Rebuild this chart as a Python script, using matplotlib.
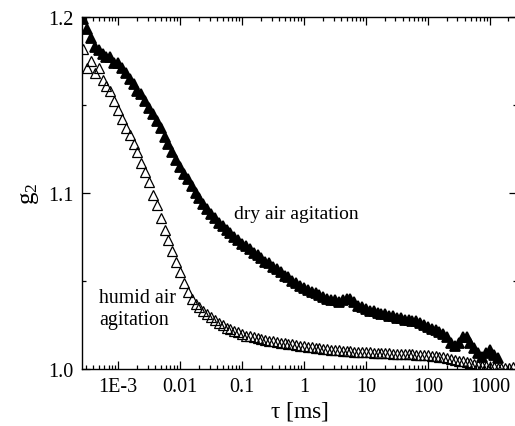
import matplotlib
matplotlib.use('Agg')
import matplotlib.pyplot as plt
from matplotlib.ticker import FixedLocator, FixedFormatter, LogLocator, NullFormatter

plt.rcParams['font.family'] = ['Liberation Serif', 'DejaVu Serif']
plt.rcParams['mathtext.fontset'] = 'custom'
plt.rcParams['mathtext.rm'] = 'Liberation Serif'
plt.rcParams['mathtext.it'] = 'Liberation Serif:italic'

# lag times [ms] (correlator channels)
tau_ms = [
    2.74e-4, 3.16e-4, 3.65e-4, 4.22e-4, 4.87e-4, 5.62e-4, 6.49e-4, 7.50e-4, 8.66e-4,
    1.00e-3, 1.15e-3, 1.33e-3, 1.54e-3, 1.78e-3, 2.05e-3, 2.37e-3, 2.74e-3,
    3.16e-3, 3.65e-3, 4.22e-3, 4.87e-3, 5.62e-3, 6.49e-3, 7.50e-3, 8.66e-3,
    1.00e-2, 1.15e-2, 1.33e-2, 1.54e-2, 1.78e-2, 2.05e-2, 2.37e-2, 2.74e-2,
    3.16e-2, 3.65e-2, 4.22e-2, 4.87e-2, 5.62e-2, 6.49e-2, 7.50e-2, 8.66e-2,
    0.100, 0.115, 0.133, 0.154, 0.178, 0.205, 0.237, 0.274,
    0.316, 0.365, 0.422, 0.487, 0.562, 0.649, 0.750, 0.866,
    1.00, 1.15, 1.33, 1.54, 1.78, 2.05, 2.37, 2.74,
    3.16, 3.65, 4.22, 4.87, 5.62, 6.49, 7.50, 8.66,
    10.0, 11.5, 13.3, 15.4, 17.8, 20.5, 23.7, 27.4,
    31.6, 36.5, 42.2, 48.7, 56.2, 64.9, 75.0, 86.6,
    100, 115, 133, 154, 178, 205, 237, 274,
    316, 365, 422, 487, 562, 649, 750, 866,
    1000, 1155, 1334, 1540, 1778, 2054, 2371,
]

g2_dry = [
    1.199, 1.193, 1.188, 1.183, 1.181, 1.179, 1.177, 1.177, 1.174,
    1.174, 1.171, 1.168, 1.165, 1.162, 1.158, 1.156, 1.152,
    1.148, 1.145, 1.141, 1.137, 1.132, 1.128, 1.123, 1.119,
    1.115, 1.111, 1.108, 1.104, 1.100, 1.097, 1.094, 1.091,
    1.088, 1.086, 1.083, 1.081, 1.079, 1.077, 1.075, 1.073,
    1.071, 1.070, 1.068, 1.066, 1.065, 1.063, 1.061, 1.060,
    1.058, 1.057, 1.055, 1.053, 1.052, 1.050, 1.049, 1.047,
    1.046, 1.045, 1.044, 1.043, 1.042, 1.041, 1.040, 1.039,
    1.039, 1.038, 1.039, 1.040, 1.040, 1.038, 1.036, 1.035,
    1.034, 1.033, 1.033, 1.032, 1.031, 1.031, 1.030, 1.030,
    1.029, 1.029, 1.028, 1.028, 1.027, 1.027, 1.026, 1.025,
    1.024, 1.023, 1.022, 1.021, 1.020, 1.018, 1.015, 1.013,
    1.015, 1.018, 1.018, 1.015, 1.012, 1.009, 1.007, 1.009,
    1.011, 1.008, 1.006,
]

g2_humid = [
    1.182, 1.171, 1.175, 1.168, 1.171, 1.164, 1.161, 1.158, 1.152,
    1.147, 1.142, 1.137, 1.133, 1.128, 1.123, 1.117, 1.112,
    1.106, 1.099, 1.093, 1.086, 1.079, 1.073, 1.067, 1.061,
    1.055, 1.049, 1.044, 1.040, 1.037, 1.035, 1.033, 1.031,
    1.0295, 1.028, 1.026, 1.025, 1.0235, 1.0225, 1.0215, 1.021,
    1.020, 1.019, 1.0185, 1.018, 1.0175, 1.017, 1.0165, 1.016,
    1.0157, 1.0153, 1.015, 1.0147, 1.0143, 1.014, 1.0137, 1.0133,
    1.013, 1.0127, 1.0124, 1.0121, 1.0118, 1.0115, 1.0112, 1.011,
    1.0108, 1.0106, 1.0104, 1.0102, 1.010, 1.0098, 1.0097, 1.0096,
    1.0095, 1.0094, 1.0093, 1.0092, 1.0091, 1.009, 1.0089, 1.0088,
    1.0087, 1.0086, 1.0085, 1.0084, 1.0083, 1.0082, 1.0081, 1.008,
    1.0078, 1.0076, 1.0073, 1.007, 1.0066, 1.0062, 1.0058, 1.0053,
    1.0048, 1.0043, 1.0038, 1.0033, 1.0028, 1.0023, 1.0019, 1.0015,
    1.0012, 1.001, 1.0008, 1.0007, 1.0007, 1.0008, 1.0009,
]

x_ticks = [1e-3, 1e-2, 1e-1, 1, 10, 100, 1000]
x_tick_labels = ['1E-3', '0.01', '0.1', '1', '10', '100', '1000']
y_ticks = [1.0, 1.1, 1.2]
y_tick_labels = ['1.0', '1.1', '1.2']


def main():
    fig = plt.figure(figsize=(5.15, 4.27), dpi=100)
    ax = fig.add_axes([0.159, 0.1335, 0.844, 0.8245])

    ax.plot(tau_ms[:len(g2_humid)], g2_humid, linestyle='none', marker='^',
            ms=6.5, mfc='none', mec='black', mew=0.9)
    ax.plot(tau_ms[:len(g2_dry)], g2_dry, linestyle='none', marker='^',
            ms=6.5, mfc='black', mec='black', mew=1.3)

    ax.set_xscale('log')
    ax.set_xlim(2.6e-4, 2700)
    ax.set_ylim(1.0, 1.2)

    ax.xaxis.set_major_locator(FixedLocator(x_ticks))
    ax.xaxis.set_major_formatter(FixedFormatter(x_tick_labels))
    ax.xaxis.set_minor_locator(LogLocator(base=10, subs=range(2, 10), numticks=20))
    ax.xaxis.set_minor_formatter(NullFormatter())
    ax.yaxis.set_major_locator(FixedLocator(y_ticks))
    ax.yaxis.set_major_formatter(FixedFormatter(y_tick_labels))
    ax.yaxis.set_minor_locator(FixedLocator([1.05, 1.15]))

    ax.tick_params(which='both', direction='in', top=True, right=True,
                   labelsize=14.5, width=0.9)
    ax.tick_params(which='major', length=6, pad=6)
    ax.tick_params(which='minor', length=3)
    for sp in ax.spines.values():
        sp.set_linewidth(1.0)

    ax.set_xlabel(r'$\mathregular{\tau}$ [ms]', fontsize=17, labelpad=2)
    ax.set_ylabel(r'g$_\mathregular{2}$', fontsize=18, labelpad=5)

    ax.text(0.074, 1.0886, 'dry air agitation', fontsize=14, ha='left', va='center')
    ax.text(4.9e-4, 1.0345, 'humid air\nagitation', fontsize=14.3, ha='left', va='center',
            linespacing=1.25)

    fig.savefig('out.png', dpi=100)
    plt.close(fig)


if __name__ == "__main__":
    main()
